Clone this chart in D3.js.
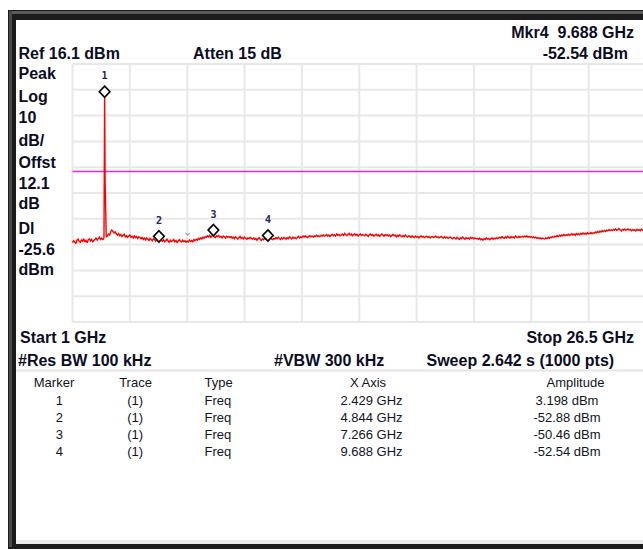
<!DOCTYPE html>
<html>
<head>
<meta charset="utf-8">
<script src="https://cdn.jsdelivr.net/npm/d3@7/dist/d3.min.js"></script>
<style>
  html, body { margin: 0; padding: 0; background: #ffffff; }
  svg { display: block; }
  text { white-space: pre; }
</style>
</head>
<body>
<svg id="chart" width="643" height="550"></svg>
<script>
// ---------------- data ----------------
const startGHz = 1.0;
const stopGHz = 26.5;
const refLevelDbm = 16.1;
const dbPerDiv = 10;
const xDivisions = 10;
const yDivisions = 10;
const displayLineDbm = -25.6;

// Trace 1, one value every 0.05 GHz from 1.00 to 26.50 GHz (dBm)
const traceDbm = [
  -53.1,-52.4,-52.9,-53.5,-52.2,-51.8,-52.7,-53.0,-52.1,-52.6,-51.6,-52.9,-52.3,-53.2,-52.0,-51.7,-52.5,-51.9,-52.8,-52.2,
  -52.0,-51.3,-52.2,-51.6,-51.0,-51.9,-51.4,-52.1,-51.2,-29.5,-50.9,-50.6,-49.8,-50.2,-48.9,-48.3,-48.8,-49.4,-49.0,-49.7,
  -50.2,-49.6,-50.5,-50.0,-50.8,-50.3,-49.9,-50.9,-50.4,-51.1,-50.6,-50.2,-51.0,-50.7,-51.3,-50.5,-51.2,-50.8,-51.5,-50.9,
  -51.2,-51.7,-51.0,-51.9,-51.4,-52.1,-51.3,-51.8,-52.3,-51.5,-51.9,-52.4,-51.6,-52.0,-52.6,-51.8,-52.2,-52.9,-51.9,-52.3,
  -52.6,-52.0,-52.8,-52.3,-51.8,-52.5,-53.0,-52.2,-52.7,-52.4,-51.9,-52.8,-52.3,-53.1,-52.5,-52.0,-52.6,-52.9,-52.2,-52.7,
  -52.4,-53.0,-52.6,-52.9,-52.1,-52.7,-52.3,-52.8,-51.9,-52.4,-51.8,-52.2,-51.5,-51.9,-51.3,-51.7,-51.0,-51.4,-50.8,-51.1,
  -50.5,-50.9,-50.3,-51.1,-50.6,-50.2,-50.9,-51.2,-50.5,-50.8,-50.4,-51.0,-50.7,-51.3,-50.6,-50.9,-51.4,-50.7,-51.0,-50.8,
  -51.2,-50.8,-51.4,-51.0,-51.6,-50.9,-51.3,-51.8,-51.1,-50.7,-51.5,-51.2,-51.7,-51.0,-51.4,-51.9,-51.3,-51.6,-51.1,-51.5,
  -51.8,-51.3,-51.9,-51.5,-52.2,-51.6,-51.2,-51.9,-52.3,-51.7,-52.0,-51.4,-51.8,-52.1,-51.5,-51.9,-51.3,-51.7,-52.0,-51.6,
  -51.8,-51.2,-51.6,-51.0,-51.5,-51.9,-51.3,-51.7,-51.1,-51.4,-51.8,-51.2,-51.6,-50.9,-51.3,-51.7,-51.0,-51.5,-51.2,-51.6,
  -51.1,-50.7,-51.3,-50.9,-51.2,-50.6,-51.0,-50.5,-50.9,-51.2,-50.7,-50.4,-50.9,-50.6,-51.0,-50.5,-50.8,-50.3,-50.7,-50.5,
  -50.8,-50.3,-50.6,-50.1,-50.7,-50.4,-50.0,-50.6,-50.2,-50.8,-50.3,-49.9,-50.5,-50.1,-50.6,-49.8,-50.3,-50.0,-50.5,-50.2,
  -49.8,-50.3,-49.6,-50.1,-50.4,-49.9,-49.5,-50.2,-49.8,-50.5,-50.0,-49.7,-50.3,-49.9,-50.6,-50.1,-49.8,-50.4,-50.0,-50.2,
  -50.5,-49.9,-50.3,-50.7,-50.1,-49.8,-50.4,-50.0,-50.6,-50.2,-49.9,-50.5,-50.1,-50.7,-50.3,-49.8,-50.2,-50.6,-50.0,-50.4,
  -50.1,-50.6,-50.2,-50.8,-50.4,-49.9,-50.5,-50.2,-50.9,-50.3,-50.7,-50.1,-50.6,-50.9,-50.4,-50.8,-50.2,-50.7,-51.0,-50.5,
  -50.7,-51.1,-50.5,-50.9,-51.2,-50.6,-51.0,-50.7,-51.3,-50.8,-50.5,-51.0,-50.7,-51.2,-50.9,-50.6,-51.1,-50.8,-51.3,-50.9,
  -50.8,-51.2,-50.9,-50.6,-51.1,-50.8,-51.3,-51.0,-50.7,-51.2,-51.4,-50.9,-51.3,-51.0,-51.5,-51.2,-50.9,-51.4,-51.6,-51.2,
  -51.3,-51.7,-51.1,-51.5,-51.9,-51.3,-51.6,-51.0,-51.4,-51.8,-51.2,-51.6,-51.3,-51.8,-51.1,-51.5,-51.2,-51.7,-51.4,-51.6,
  -51.5,-51.9,-51.4,-52.0,-51.7,-52.2,-51.6,-51.9,-51.3,-51.8,-51.5,-52.0,-51.6,-51.3,-51.8,-51.4,-51.7,-51.2,-51.6,-51.3,
  -51.0,-51.4,-50.8,-51.2,-51.5,-50.9,-51.3,-50.7,-51.1,-51.4,-50.8,-51.2,-50.9,-51.3,-50.6,-51.0,-51.2,-50.7,-51.1,-50.9,
  -50.7,-51.0,-50.6,-50.9,-50.5,-51.0,-50.7,-51.1,-50.8,-51.2,-50.9,-51.3,-51.0,-51.5,-51.2,-51.6,-51.3,-51.7,-51.4,-51.6,
  -51.7,-51.3,-51.6,-51.1,-51.5,-51.0,-51.2,-50.8,-51.1,-50.6,-50.9,-50.4,-50.8,-50.3,-50.7,-50.2,-50.5,-50.0,-50.4,-50.1,
  -50.3,-49.9,-50.4,-50.0,-49.7,-50.2,-49.8,-50.3,-49.6,-50.0,-49.7,-50.1,-49.5,-49.9,-49.4,-49.8,-49.5,-49.9,-49.3,-49.7,
  -49.6,-49.2,-49.7,-49.3,-49.5,-49.0,-49.3,-48.8,-49.2,-48.7,-49.0,-48.5,-48.9,-48.4,-48.8,-48.3,-48.6,-48.1,-48.5,-48.2,
  -48.5,-48.0,-48.3,-47.8,-48.4,-48.1,-47.7,-48.2,-48.6,-48.0,-48.3,-47.9,-48.4,-48.1,-47.8,-48.3,-48.0,-48.5,-48.1,-48.4,
  -48.2,-48.6,-48.0,-48.4,-48.1,-48.5,-47.9,-48.3,-48.6,-48.2,-48.4
];
const traceStepGHz = 0.05;

// Carrier peak point (GHz, dBm)
const spikeGHz = [2.429];
const spikeDbm = [3.198];

// Markers
const markerIds = ["1", "2", "3", "4"];
const markerTrace = ["(1)", "(1)", "(1)", "(1)"];
const markerType = ["Freq", "Freq", "Freq", "Freq"];
const markerGHz = [2.429, 4.844, 7.266, 9.688];
const markerDbm = [3.198, -52.88, -50.46, -52.54];
const markerXText = ["2.429 GHz", "4.844 GHz", "7.266 GHz", "9.688 GHz"];
const markerAmpText = ["3.198 dBm", "-52.88 dBm", "-50.46 dBm", "-52.54 dBm"];

// small caret seen on the trace
const caretGHz = [6.12];
const caretDbm = [-49.9];

// Annotation texts
const leftLabels = ["Peak", "Log", "10", "dB/", "Offst", "12.1", "dB", "Dl", "-25.6", "dBm"];
const tableHeaders = ["Marker", "Trace", "Type", "X Axis", "Amplitude"];

// ---------------- drawing ----------------
const svg = d3.select("#chart");
const textColor = "#0b0d1f";
const boldFont = "'Liberation Sans', Arial, sans-serif";

// Frame
svg.append("rect").attr("x", 8).attr("y", 10).attr("width", 660).attr("height", 539).attr("fill", "#1c1c1c");
svg.append("rect").attr("x", 9).attr("y", 11).attr("width", 660).attr("height", 3).attr("fill", "#5a5a5a");
svg.append("rect").attr("x", 9).attr("y", 11).attr("width", 3).attr("height", 536).attr("fill", "#4a4a4a");
svg.append("rect").attr("x", 16).attr("y", 20).attr("width", 660).attr("height", 524).attr("fill", "#e9e9e9");
svg.append("rect").attr("x", 16).attr("y", 20).attr("width", 660).attr("height", 520).attr("fill", "#ffffff");

// Scales
const plotLeft = 72.5, plotRight = 646, plotTop = 64, plotBottom = 322;
const bottomDbm = refLevelDbm - dbPerDiv * yDivisions;
const x = d3.scaleLinear().domain([startGHz, stopGHz]).range([plotLeft, plotRight]);
const y = d3.scaleLinear().domain([bottomDbm, refLevelDbm]).range([plotBottom, plotTop]);

// Grid
const xGrid = d3.range(xDivisions + 1).map(i => startGHz + i * (stopGHz - startGHz) / xDivisions);
const yGrid = d3.range(yDivisions + 1).map(i => refLevelDbm - i * dbPerDiv);
const grid = svg.append("g");
grid.selectAll("line.v").data(xGrid).join("line")
  .attr("x1", d => x(d)).attr("x2", d => x(d))
  .attr("y1", plotTop).attr("y2", plotBottom)
  .attr("stroke", "#e8e8e8").attr("stroke-width", 2);
grid.selectAll("line.h").data(yGrid).join("line")
  .attr("x1", plotLeft).attr("x2", plotRight)
  .attr("y1", d => y(d)).attr("y2", d => y(d))
  .attr("stroke", "#e8e8e8").attr("stroke-width", 2);

// Display line
svg.append("line")
  .attr("x1", plotLeft).attr("x2", plotRight)
  .attr("y1", y(displayLineDbm)).attr("y2", y(displayLineDbm))
  .attr("stroke", "#ee22ee").attr("stroke-width", 1.5);

// Trace
const tracePts = traceDbm.map((v, i) => [startGHz + i * traceStepGHz, v]);
spikeGHz.forEach((f, i) => tracePts.push([f, spikeDbm[i]]));
tracePts.sort((a, b) => a[0] - b[0]);
const line = d3.line().x(d => x(d[0])).y(d => y(d[1]));
svg.append("path").datum(tracePts)
  .attr("d", line)
  .attr("fill", "none")
  .attr("stroke", "#ff0000")
  .attr("stroke-width", 1.4)
  .attr("stroke-linejoin", "miter")
  .attr("stroke-miterlimit", 2);

// caret
svg.selectAll("path.caret").data(caretGHz).join("path")
  .attr("d", (d, i) => {
    const cx = x(d), cy = y(caretDbm[i]);
    return `M${cx - 2},${cy - 1.5} L${cx},${cy + 1} L${cx + 2},${cy - 1.5}`;
  })
  .attr("fill", "none").attr("stroke", "#777").attr("stroke-width", 1);

// Marker diamonds
const dh = 5.6, dw = 5.3;
const mk = svg.append("g");
mk.selectAll("path").data(markerGHz).join("path")
  .attr("d", (d, i) => {
    const cx = x(d), by = y(markerDbm[i]);
    const cy = by - dh;
    return `M${cx},${cy - dh} L${cx + dw},${cy} L${cx},${cy + dh} L${cx - dw},${cy} Z`;
  })
  .attr("fill", "#ffffff").attr("stroke", "#000000").attr("stroke-width", 1.6);
mk.selectAll("text").data(markerGHz).join("text")
  .attr("x", d => x(d))
  .attr("y", (d, i) => y(markerDbm[i]) - dh - 12.5)
  .attr("text-anchor", "middle")
  .attr("font-family", "'DejaVu Sans Mono', 'Liberation Mono', monospace")
  .attr("font-weight", "bold")
  .attr("font-size", 10)
  .attr("fill", "#1b2453")
  .text((d, i) => markerIds[i]);

// Header texts
function bold(txt, tx, ty, anchor) {
  svg.append("text").attr("x", tx).attr("y", ty)
    .attr("text-anchor", anchor || "start")
    .attr("font-family", boldFont).attr("font-weight", "bold")
    .attr("font-size", 16).attr("fill", textColor).text(txt);
}
bold("Mkr4  9.688 GHz", 634, 37.5, "end");
bold("Ref 16.1 dBm", 18.5, 58.5);
bold("Atten 15 dB", 193, 58.5);
bold("-52.54 dBm", 628, 58.5, "end");

const leftY = [79, 102, 123, 146, 167.5, 188.5, 208.5, 234, 255, 275];
leftLabels.forEach((t, i) => bold(t, 18.5, leftY[i]));

bold("Start 1 GHz", 20, 343);
bold("Stop 26.5 GHz", 634, 343, "end");
bold("#Res BW 100 kHz", 18, 366);
bold("#VBW 300 kHz", 274, 366);
bold("Sweep 2.642 s (1000 pts)", 426.5, 366);

// separator above the table
svg.append("line").attr("x1", 16).attr("x2", 643).attr("y1", 370.5).attr("y2", 370.5)
  .attr("stroke", "#e4e4e4").attr("stroke-width", 2);

// Marker table
const colAnchor = ["middle", "middle", "start", "middle", "middle"];
const headerX = [54, 135.5, 204.5, 368, 575.5];
const table = svg.append("g")
  .attr("font-family", "'Liberation Sans', Arial, sans-serif")
  .attr("font-size", 13).attr("fill", "#111522");
tableHeaders.forEach((h, i) => {
  table.append("text").attr("x", headerX[i]).attr("y", 387.3)
    .attr("text-anchor", colAnchor[i]).text(h);
});
const rowY = d3.scaleLinear().domain([0, 1]).range([404.7, 421.7]);
const cols = [markerIds, markerTrace, markerType, markerXText, markerAmpText];
const valX = [59.3, 135.2, 204.5, 371.5, 567];
markerIds.forEach((m, r) => {
  cols.forEach((c, j) => {
    table.append("text").attr("x", valX[j]).attr("y", rowY(r))
      .attr("text-anchor", colAnchor[j]).text(c[r]);
  });
});
</script>
</body>
</html>
